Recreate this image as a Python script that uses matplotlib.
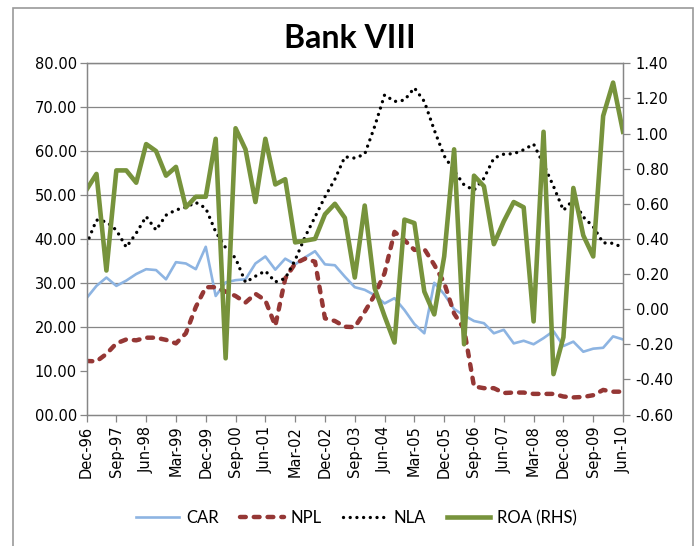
import numpy as np
import matplotlib
matplotlib.use('Agg')
import matplotlib.pyplot as plt
from matplotlib.patches import Rectangle

# quarterly data, Dec-96 .. Jun-10
tick_labels = ['Dec-96', 'Sep-97', 'Jun-98', 'Mar-99', 'Dec-99', 'Sep-00', 'Jun-01',
               'Mar-02', 'Dec-02', 'Sep-03', 'Jun-04', 'Mar-05', 'Dec-05', 'Sep-06',
               'Jun-07', 'Mar-08', 'Dec-08', 'Sep-09', 'Jun-10']

car = [26.5, 29.3, 31.2, 29.3, 30.5, 32.0, 33.1, 32.9, 30.8, 34.7,
       34.4, 33.1, 38.2, 27.0, 30.1, 30.6, 30.8, 34.4, 36.0, 33.0,
       35.5, 34.2, 35.8, 37.2, 34.2, 34.0, 31.4, 29.0, 28.4, 27.2,
       25.3, 26.5, 23.8, 20.6, 18.5, 30.0, 27.4, 24.0, 22.6, 21.3,
       20.8, 18.5, 19.3, 16.2, 16.8, 16.0, 17.4, 19.0, 15.6, 16.6,
       14.3, 15.0, 15.2, 17.8, 17.1]

npl = [12.2, 12.1, 13.8, 16.2, 17.1, 16.9, 17.5, 17.5, 17.0, 16.2,
       18.5, 24.5, 29.0, 29.0, 28.0, 27.0, 25.5, 27.5, 26.0, 20.2,
       31.0, 34.4, 35.5, 34.8, 21.9, 21.3, 20.0, 19.9, 23.4, 27.2,
       32.2, 41.6, 39.7, 37.5, 37.7, 34.1, 30.0, 23.0, 19.5, 6.4,
       6.0, 6.0, 4.9, 5.0, 5.0, 4.7, 4.7, 4.7, 4.1, 3.9,
       4.0, 4.4, 5.6, 5.2, 5.2]

nla = [38.8, 44.3, 43.9, 42.0, 38.1, 41.3, 45.1, 42.0, 45.4, 46.6,
       47.2, 48.3, 47.0, 41.6, 38.0, 35.6, 30.1, 31.5, 32.7, 30.2,
       31.0, 35.2, 40.5, 45.0, 49.6, 53.6, 58.7, 58.4, 59.3, 65.6,
       72.8, 71.3, 71.6, 74.4, 71.3, 64.8, 58.9, 55.5, 52.3, 51.1,
       53.8, 58.4, 59.3, 59.4, 60.3, 61.6, 57.0, 52.0, 46.5, 48.9,
       45.0, 42.8, 39.1, 39.0, 38.0]

roa = [0.68, 0.77, 0.22, 0.79, 0.79, 0.72, 0.94, 0.90, 0.76, 0.81,
       0.58, 0.64, 0.64, 0.97, -0.28, 1.03, 0.91, 0.61, 0.97, 0.71,
       0.74, 0.38, 0.39, 0.40, 0.54, 0.60, 0.52, 0.18, 0.59, 0.12,
       -0.04, -0.19, 0.51, 0.49, 0.10, -0.03, 0.30, 0.91, -0.20, 0.76,
       0.70, 0.37, 0.50, 0.61, 0.58, -0.07, 1.01, -0.37, -0.16, 0.69,
       0.42, 0.30, 1.10, 1.29, 1.01]

x = np.arange(len(car))
grey = '#868686'
narrow = ['Lato', 'DejaVu Sans']

fig = plt.figure(figsize=(6.99, 5.46), dpi=100)
ax = fig.add_axes([0.1238, 0.2408, 0.7675, 0.6433])
ax2 = ax.twinx()

# outer chart frame
fig.patches.append(Rectangle((0.019, -0.1), 0.972, 1.085, transform=fig.transFigure,
                             fill=False, edgecolor='#9a9a9a', lw=1.2))

for v in [20, 30, 40, 50, 60, 70, 80]:
    ax.axhline(v, color=grey, lw=0.9, zorder=0)

l_car, = ax.plot(x, car, color='#8DB4E2', lw=1.9, label='CAR', zorder=2)
l_npl, = ax.plot(x, npl, color='#953735', lw=3.2, linestyle=(0, (1.3, 1.8)),
                 dash_capstyle='round', label='NPL', zorder=2)
l_nla, = ax.plot(x, nla, color='black', lw=2.4, linestyle=(0, (0.01, 2.0)),
                 dash_capstyle='round', label='NLA', zorder=3)
l_roa, = ax2.plot(x, roa, color='#77933C', lw=3.3, label='ROA (RHS)')

ax.set_xlim(0, len(car) - 1)
ax.set_ylim(0, 80)
ax2.set_ylim(-0.6, 1.4)

ax.set_xticks(x[::3])
ax.set_xticklabels(tick_labels, rotation=90)
yt = np.arange(0, 81, 10)
ax.set_yticks(yt)
ax.set_yticklabels([f'{v:05.2f}' for v in yt])
yt2 = np.arange(-0.6, 1.41, 0.2)
ax2.set_yticks(yt2)
ax2.set_yticklabels([f'{v:.2f}'.replace('-0.00', '0.00') for v in yt2])

for a in (ax, ax2):
    for s in a.spines.values():
        s.set_color(grey)
        s.set_linewidth(0.9)
    a.tick_params(direction='out', length=5, width=0.9, color=grey,
                  labelsize=10.5, pad=2)
ax.tick_params(axis='x', pad=3)
ax2.tick_params(axis='y', pad=4)

fig.text(0.5, 0.930, 'Bank VIII', ha='center', va='center', fontsize=23,
         fontweight='bold', family=narrow)

fig.legend(handles=[l_car, l_npl, l_nla, l_roa], loc='center',
           bbox_to_anchor=(0.51, 0.051), ncol=4, frameon=False,
           prop={'family': narrow, 'size': 12}, handlelength=2.6,
           handletextpad=0.4, columnspacing=1.3)

fig.savefig('out.png', dpi=100)
